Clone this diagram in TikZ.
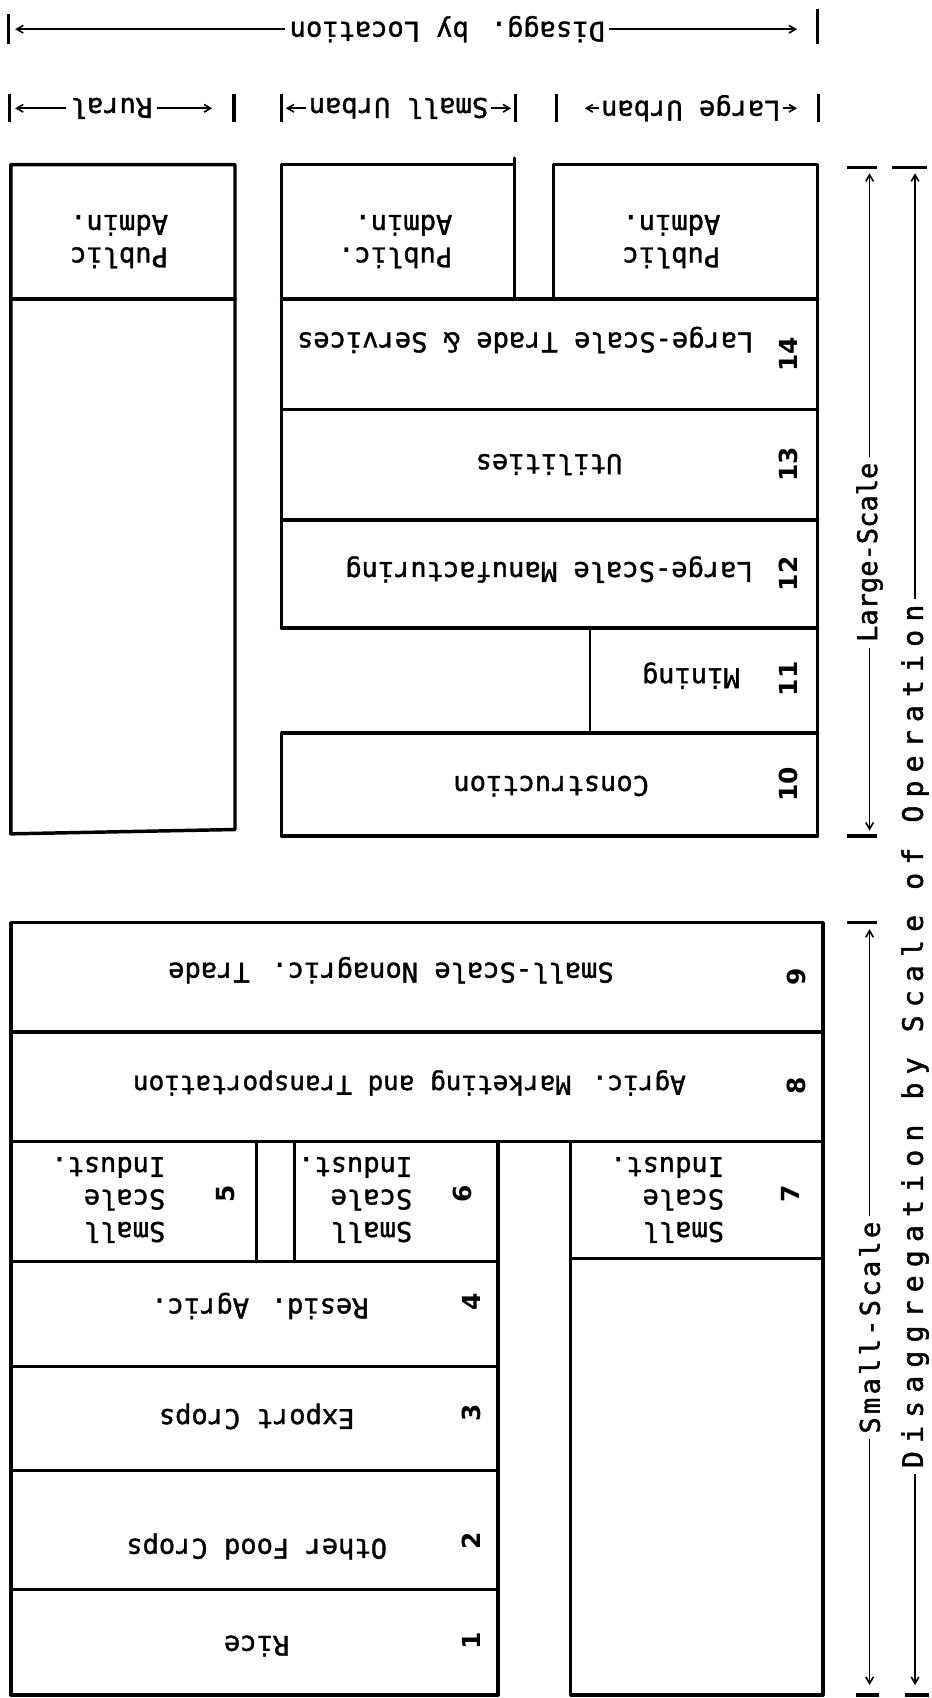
\documentclass[tikz,border=0pt]{standalone}
\usepackage{fontspec}
\usetikzlibrary{arrows.meta}
\newfontfamily\boxfont[FakeBold=1.3]{DejaVu Sans Mono}
\newfontfamily\numfont{DejaVu Sans}
\newfontfamily\sideA[FakeBold=1.6]{DejaVu Sans Mono}
\newfontfamily\sideB[FakeBold=1.6,LetterSpace=12]{DejaVu Sans Mono}
\newfontfamily\sideC[FakeBold=1.6,LetterSpace=29]{DejaVu Sans Mono}
\begin{document}
\begin{tikzpicture}[x=1pt,y=-1pt,
  box/.style={line width=3.2pt, line cap=round, line join=round},
  thinbox/.style={line width=2pt},
  lab/.style={font=\boxfont\fontsize{25}{30}\selectfont, rotate=180, align=left, inner sep=4pt},
  num/.style={font=\numfont\bfseries\fontsize{23}{26}\selectfont, rotate=90, inner sep=0pt},
  side/.style={rotate=90, inner sep=5pt},
  arr/.style={line width=1.5pt, -{Straight Barb[length=6pt,width=7pt]}},
  bar/.style={line width=3pt},
]
\useasboundingbox (0,0) rectangle (860,1568);
\fill[white] (0,0) rectangle (860,1568);

% ---------- top location labels ----------
\node[lab] (loc) at (413,27) {Disagg. by Location};
\coordinate (locL) at (8,27);
\coordinate (locR) at (755,27);
\draw[bar] (8,13) -- (8,41);
\draw[bar] (755,8) -- (755,41);
\draw[arr] (loc.east) -- ([xshift=6pt]locL);
\draw[arr] (loc.west) -- ([xshift=-19pt]locR);

\node[lab] (rur) at (103,100) {Rural};
\coordinate (rurL) at (14,100);
\coordinate (rurR) at (196,100);
\draw[bar] (9,87) -- (9,113);
\draw[bar] (216,87) -- (216,113);
\draw[arr] (rur.east) -- (rurL);
\draw[arr] (rur.west) -- (rurR);

\node[lab, inner sep=2pt] (sur) at (368,100) {Small Urban};
\coordinate (surL) at (264,100);
\coordinate (surR) at (472,100);
\draw[bar] (260,87) -- (260,113);
\draw[bar] (476,87) -- (476,113);
\draw[arr] (sur.east) -- (surL);
\draw[arr] (sur.west) -- (surR);

\node[lab, inner sep=2pt] (lur) at (638,100) {Large Urban};
\coordinate (lurL) at (540,100);
\coordinate (lurR) at (736,100);
\draw[bar] (514,87) -- (514,113);
\draw[bar] (756,87) -- (756,113);
\draw[arr] (lur.east) -- (lurL);
\draw[arr] (lur.west) -- (lurR);

% ---------- upper (large-scale) boxes ----------
\draw[box] (10,152) -- (217,152) -- (217,766) -- (10,770) -- cycle;
\draw[box] (10,276) -- (217,276);

\draw[box] (260,580) -- (260,152) -- (475,152);
\draw[box] (475,146) -- (475,276);
\draw[box] (511,276) -- (511,152) -- (755,152) -- (755,772) -- (260,772) -- (260,677) -- (755,677);
\draw[box] (260,276) -- (755,276);
\draw[box] (260,378) -- (755,378);
\draw[box] (260,480) -- (755,480);
\draw[box] (260,580) -- (755,580);
\draw[thinbox] (545,580) -- (545,677);

\node[lab] (pa1) at (110,223) {Public\\Admin.};
\node[lab] (pa2) at (365,223) {Public.\\Admin.};
\node[lab] (pa3) at (620,223) {Public\\Admin.};
\node[lab] (t14) at (485,314) {Large-Scale Trade \& Services};
\node[lab] (t13) at (507,429) {Utilities};
\node[lab] (t12) at (507,526) {Large-Scale Manufacturing};
\node[lab] (t11) at (638,624) {Mining};
\node[lab] (t10) at (509,726) {Construction};

\node[num] (n14) at (728,327) {14};
\node[num] (n13) at (728,429) {13};
\node[num] (n12) at (728,530) {12};
\node[num] (n11) at (728,627) {11};
\node[num] (n10) at (728,724) {10};

% ---------- lower (small-scale) boxes ----------
\draw[box] (10,852) rectangle (760,1054);
\draw[box] (10,953) -- (760,953);
\draw[box] (10,1054) rectangle (460,1565);
\draw[box] (10,1165) -- (460,1165);
\draw[box] (10,1262) -- (460,1262);
\draw[box] (10,1358) -- (460,1358);
\draw[box] (10,1468) -- (460,1468);
\draw[box] (237,1054) -- (237,1165);
\draw[box] (272,1054) -- (272,1165);
\draw[box] (527,1054) rectangle (760,1565);
\draw[box] (527,1162) -- (760,1162);

\node[lab] (t9) at (361,896) {Small-Scale Nonagric. Trade};
\node[lab, font=\boxfont\fontsize{24}{30}\selectfont] (t8) at (378,1000) {Agric. Marketing and Transportation};
\node[lab] (t5) at (100,1108) {Small\\Scale\\Indust.};
\node[lab] (t6) at (328,1108) {Small\\Scale\\Indust.};
\node[lab] (t7) at (616,1108) {Small\\Scale\\Indust.};
\node[lab] (t4) at (240,1206) {Resid. Agric.};
\node[lab] (t3) at (237,1308) {Export Crops};
\node[lab] (t2) at (237,1428) {Other Food Crops};
\node[lab] (t1) at (237,1520) {Rice};

\node[num] (n9) at (735,902) {9};
\node[num] (n8) at (735,1003) {8};
\node[num] (n7) at (730,1102) {7};
\node[num] (n6) at (427,1102) {6};
\node[num] (n5) at (208,1102) {5};
\node[num] (n4) at (435,1202) {4};
\node[num] (n3) at (435,1305) {3};
\node[num] (n2) at (435,1423) {2};
\node[num] (n1) at (435,1515) {1};

% ---------- side scale labels ----------
\node[side, font=\sideA\fontsize{25}{25}\selectfont] (ls) at (803,510) {Large-Scale};
\coordinate (lsT) at (803,160);
\coordinate (lsB) at (803,767);
\draw[bar] (782,155) -- (810,155);
\draw[bar] (782,772) -- (810,772);
\draw[arr] (ls.east) -- (lsT);
\draw[arr] (ls.west) -- (lsB);

\node[side, font=\sideB\fontsize{25}{25}\selectfont] (ss) at (803,1226) {Small-Scale};
\coordinate (ssT) at (803,858);
\coordinate (ssB) at (803,1556);
\draw[bar] (782,852) -- (810,852);
\draw[line width=4pt] (790,1565) -- (812,1565);
\draw[arr] (ss.east) -- (ssT);
\draw[arr] (ss.west) -- (ssB);

\node[side, font=\sideC\fontsize{26}{26}\selectfont] (dso) at (845,957) {Disaggregation by Scale of Operation};
\coordinate (dsT) at (845,160);
\coordinate (dsB) at (845,1556);
\draw[bar] (824,155) -- (856,155);
\draw[line width=4pt] (836,1565) -- (858,1565);
\draw[arr] (dso.east) -- (dsT);
\draw[arr] (dso.west) -- (dsB);
\end{tikzpicture}
\end{document}
